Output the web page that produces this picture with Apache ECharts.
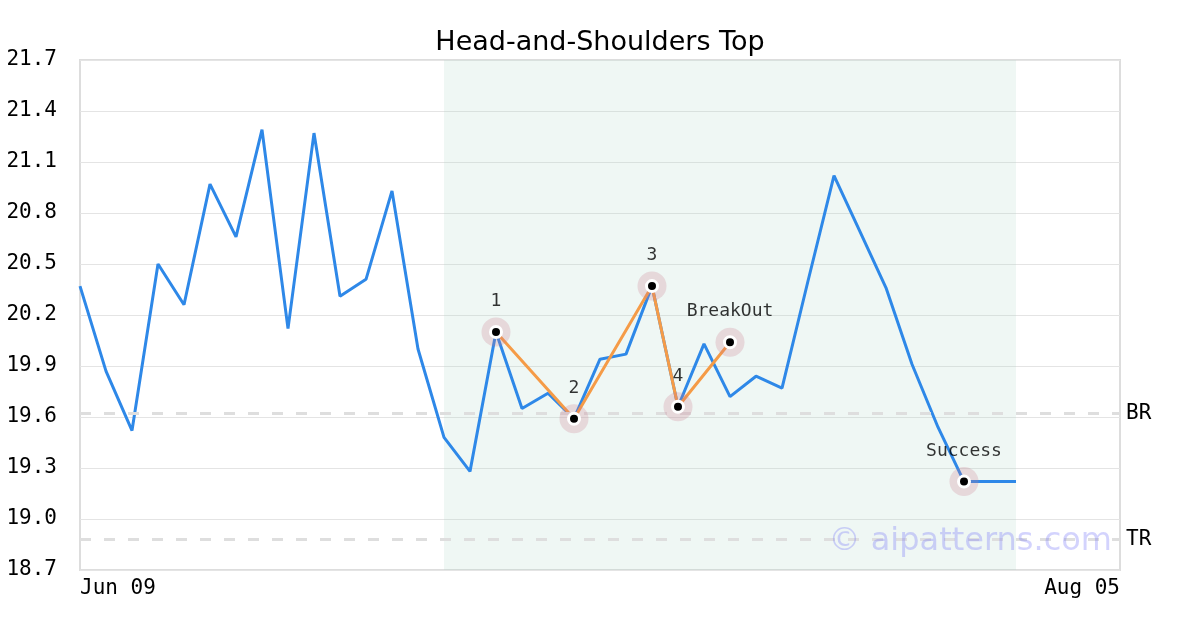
<!DOCTYPE html>
<html><head><meta charset="utf-8">
<script src="https://cdn.jsdelivr.net/npm/echarts@6/dist/echarts.min.js"></script>
<style>html,body{margin:0;padding:0;background:#fff}#c{width:1200px;height:630px}</style>
</head><body><div id="c"></div>
<script>
const categories = ["Jun 09","Jun 10","Jun 11","Jun 12","Jun 13","Jun 16","Jun 17","Jun 18","Jun 19","Jun 20","Jun 23","Jun 24","Jun 25","Jun 26","Jun 27","Jun 30","Jul 01","Jul 02","Jul 03","Jul 07","Jul 08","Jul 09","Jul 10","Jul 11","Jul 14","Jul 15","Jul 16","Jul 17","Jul 18","Jul 21","Jul 22","Jul 23","Jul 24","Jul 25","Jul 28","Jul 29","Jul 30","Jul 31","Aug 01","Aug 04","Aug 05"];
const prices = [20.37,19.87,19.52,20.50,20.26,20.97,20.66,21.29,20.12,21.27,20.31,20.41,20.93,20.00,19.48,19.28,20.10,19.65,19.74,19.59,19.94,19.97,20.37,19.66,20.03,19.72,19.84,19.77,20.40,21.02,20.69,20.36,19.91,19.54,19.22,19.22,19.22];
const patternIdx = [16,19,22,23,25];
const patternVals = [20.10,19.59,20.37,19.66,20.04];
const patternLabels = ["1","2","3","4","BreakOut"];
const successIdx = 34;
const successVal = 19.22;
const successLabel = "Success";
const shadeRange = [14,36];
const brLevel = 19.62;
const trLevel = 18.88;
const yMin = 18.7, yMax = 21.7, yStep = 0.3;

const base = yMin;
const off = v => v == null ? null : +(v - base).toFixed(4);
const mono = "'DejaVu Sans Mono', monospace";

const markPts = patternIdx.map((x,i)=>({value:[x, off(patternVals[i])], label:patternLabels[i]}))
  .concat([{value:[successIdx, off(successVal)], label:successLabel}]);

const chart = echarts.init(document.getElementById('c'), null, {renderer:'canvas'});
chart.setOption({
  animation:false,
  backgroundColor:'#fff',
  title:{text:'Head-and-Shoulders Top', left:'center', top:24,
    textStyle:{fontFamily:"'DejaVu Sans', sans-serif", fontSize:27, fontWeight:'normal', color:'#000'}},
  grid:{left:80, right:80, top:60, bottom:60, show:true, borderColor:'#dddddd', borderWidth:2, backgroundColor:'transparent'},
  xAxis:{type:'category', data:categories, boundaryGap:false,
    axisLine:{show:false}, axisTick:{show:false}, splitLine:{show:false},
    axisLabel:{interval:(i)=> i===0 || i===categories.length-1, fontFamily:mono, fontSize:21, color:'#000', margin:8,
      alignMinLabel:'left', alignMaxLabel:'right', showMinLabel:true, showMaxLabel:true}},
  yAxis:{type:'value', min:0, max:+(yMax-yMin).toFixed(4), interval:yStep,
    axisLine:{show:false}, axisTick:{show:false},
    splitLine:{lineStyle:{color:'#e4e4e4', width:1}},
    axisLabel:{fontFamily:mono, fontSize:21, color:'#000', margin:23,
      formatter:v=>(v+base).toFixed(1)}},
  graphic:[{type:'text', right:88, top:526, z:100,
    style:{text:'© aipatterns.com', font:"32px 'DejaVu Sans', sans-serif", fill:'rgba(110,110,250,0.3)'}}],
  series:[
    {type:'line', data:prices.map(off), symbol:'none', z:3,
      lineStyle:{color:'#2e88e8', width:3},
      markArea:{silent:true, itemStyle:{color:'rgba(175,215,200,0.2)'},
        data:[[{xAxis:categories[shadeRange[0]]},{xAxis:categories[shadeRange[1]]}]]},
      markLine:{silent:true, symbol:'none',
        lineStyle:{color:'#dedede', width:3, type:[11,13]},
        label:{position:'end', fontFamily:mono, fontSize:21, color:'#000', formatter:p=>p.name, distance:6},
        data:[{yAxis:off(brLevel), name:'BR'},{yAxis:off(trLevel), name:'TR'}]}},
    {type:'line', data:patternIdx.map((x,i)=>[x, off(patternVals[i])]), symbol:'none', z:4,
      lineStyle:{color:'#f59b47', width:3}},
    {type:'scatter', z:5, symbolSize:29,
      itemStyle:{color:'rgba(200,120,140,0.3)'},
      data:markPts.map(p=>({value:p.value, name:p.label})),
      label:{show:true, position:'top', distance:7, formatter:p=>p.name, fontFamily:mono, fontSize:18, color:'#000'}},
    {type:'scatter', z:6, symbolSize:11,
      itemStyle:{color:'#000', borderColor:'#fff', borderWidth:3, opacity:1},
      data:markPts.map(p=>p.value)}
  ]
});
</script></body></html>
